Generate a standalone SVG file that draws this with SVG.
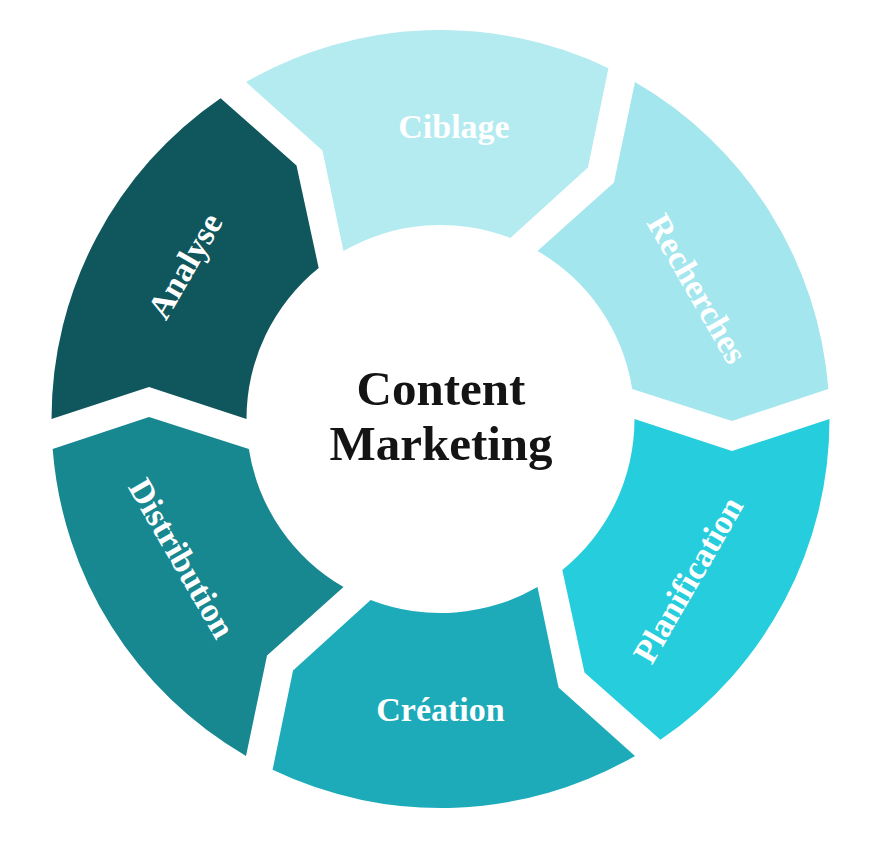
<svg xmlns="http://www.w3.org/2000/svg" xmlns:xlink="http://www.w3.org/1999/xlink" width="876" height="852" viewBox="0 0 876 852">
<style>
.lbl{font-family:"Liberation Serif","Times New Roman",serif;font-weight:bold;font-size:34px;fill:#ffffff;text-anchor:middle}
.ctr{font-family:"Liberation Serif","Times New Roman",serif;font-weight:bold;font-size:49px;fill:#141414;text-anchor:middle}
</style>
<defs>
<path id="seg" d="M -389,0 A 389,389 0 0 1 -219.9,-320.87 L -144,-253.4 L -121.82,-150.99 A 194,194 0 0 0 -194,0 L -291.5,-32 Z"/>
</defs>
<rect width="876" height="852" fill="#ffffff"/>
<g id="analyse">
<use xlink:href="#seg" href="#seg" transform="translate(440.5 419)" fill="#10575D"/>
<text class="lbl" transform="translate(187 267) rotate(-60)" x="0" y="9">Analyse</text>
</g>
<g id="ciblage">
<use xlink:href="#seg" href="#seg" transform="translate(440.5 419) rotate(60)" fill="#B3EBF0"/>
<text class="lbl" x="454" y="138">Ciblage</text>
</g>
<g id="recherches">
<use xlink:href="#seg" href="#seg" transform="translate(440.5 419) rotate(120)" fill="#A4E6EE"/>
<text class="lbl" transform="translate(697 289) rotate(60)" x="0" y="11">Recherches</text>
</g>
<g id="planification">
<use xlink:href="#seg" href="#seg" transform="translate(440.5 419) rotate(180)" fill="#26CDDD"/>
<text class="lbl" transform="translate(688.5 580) rotate(-60)" x="0" y="11">Planification</text>
</g>
<g id="creation">
<use xlink:href="#seg" href="#seg" transform="translate(440.5 419) rotate(240)" fill="#1DABBA"/>
<text class="lbl" x="440.5" y="721">Création</text>
</g>
<g id="distribution">
<use xlink:href="#seg" href="#seg" transform="translate(440.5 419) rotate(300)" fill="#178790"/>
<text class="lbl" transform="translate(181.5 558.5) rotate(60)" x="0" y="11">Distribution</text>
</g>
<g id="center">
<text class="ctr" x="441" y="405">Content</text>
<text class="ctr" x="441" y="460">Marketing</text>
</g>
</svg>
